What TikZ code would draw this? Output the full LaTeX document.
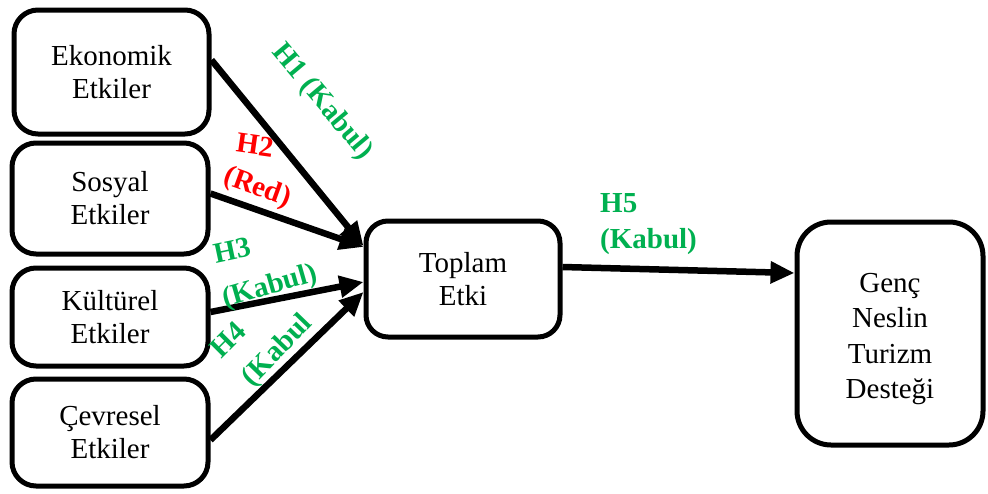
\documentclass[tikz,border=0pt]{standalone}
\usepackage{fontspec}
\setmainfont{Liberation Serif}
\usetikzlibrary{arrows.meta}
\definecolor{kgreen}{HTML}{00B050}
\definecolor{kred}{HTML}{FF0000}
\begin{document}
\begin{tikzpicture}[x=1pt,y=-1pt,
  box/.style={draw=black,line width=5pt,rounded corners=24pt,align=center,
    font=\fontsize{29}{33}\selectfont,inner sep=0pt},
  conn/.style={line width=6.5pt,-{Triangle[length=24pt,width=21pt]}},
  lbl/.style={font=\fontsize{29}{37}\selectfont\bfseries,align=center,inner sep=0pt}]
\useasboundingbox (0,0) rectangle (988,493);
\node[box,minimum width=195pt,minimum height=124pt] (eko) at (111.5,72) {Ekonomik\\Etkiler};
\node[box,minimum width=196pt,minimum height=111pt] (sos) at (110,198.5) {Sosyal\\Etkiler};
\node[box,minimum width=196pt,minimum height=98pt] (kul) at (110,317) {Kültürel\\Etkiler};
\node[box,minimum width=196pt,minimum height=107pt] (cev) at (110,432.5) {Çevresel\\Etkiler};
\node[box,minimum width=194pt,minimum height=116pt,rounded corners=22pt] (top) at (463,279) {Toplam\\Etki};
\node[box,minimum width=186pt,minimum height=223pt,rounded corners=34pt,
  font=\fontsize{29}{35.5}\selectfont] (gen) at (890,333.5) {\rule{0pt}{30pt}Genç\\Neslin\\Turizm\\Desteği};
\draw[conn] ([yshift=12pt]eko.east) -- ([yshift=33pt]top.west);
\draw[conn] ([yshift=5pt]sos.east) -- ([yshift=32pt]top.west);
\draw[conn] ([yshift=5pt]kul.east) -- ([yshift=-3pt]top.west);
\draw[conn] ([yshift=-7.5pt]cev.east) -- ([yshift=-13pt]top.west);
\draw[conn] ([yshift=12pt]top.east) -- ([yshift=60.5pt]gen.west);
\node[lbl,text=kgreen,rotate=-50] (l1) at (322,102) {H1 (Kabul)};
\node[lbl,text=kred,rotate=-8] (l2a) at (255,145) {H2};
\node[lbl,text=kred,rotate=-20] (l2b) at (257,188) {(Red)};
\node[lbl,text=kgreen,rotate=12] (l3a) at (232,250) {H3};
\node[lbl,text=kgreen,rotate=16] (l3b) at (270,287) {(Kabul)};
\node[lbl,text=kgreen,rotate=45] (l4a) at (228,340) {H4};
\node[lbl,text=kgreen,rotate=46] (l4b) at (278,351) {(Kabul};
\node[lbl,text=kgreen,anchor=west] (l5a) at (600,203) {H5};
\node[lbl,text=kgreen,anchor=west] (l5b) at (600,242) {(Kabul)};
\end{tikzpicture}
\end{document}
